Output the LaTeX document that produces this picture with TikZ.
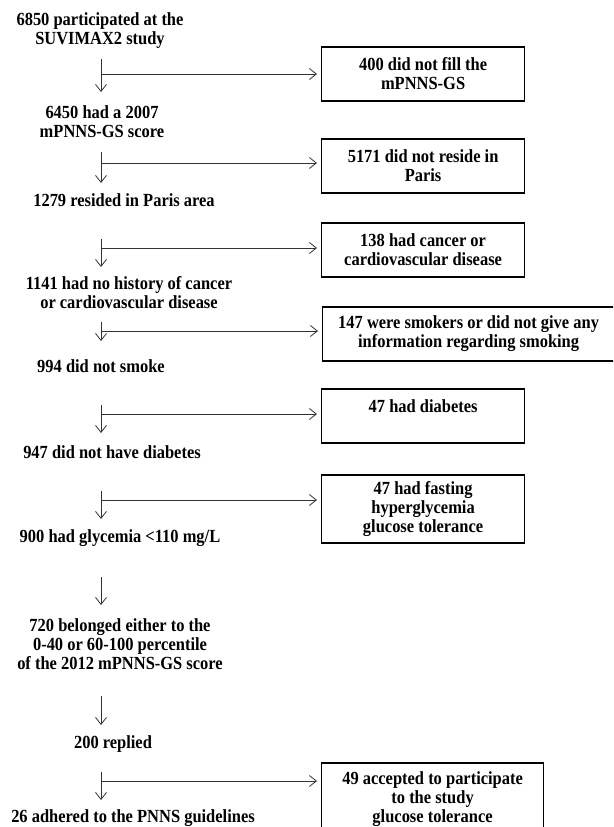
\documentclass[tikz,border=0pt]{standalone}
\usepackage{fontspec}
\setmainfont[FakeStretch=0.89]{Liberation Serif}
\usetikzlibrary{arrows.meta}

\tikzset{
	txt/.style={font=\bfseries\fontsize{18.5}{19}\selectfont, align=center, inner sep=0pt},
	excl/.style={txt, draw, line width=1.2pt, minimum width=203pt, minimum height=54pt, anchor=west},
	flow/.style={-{Straight Barb[length=7pt,width=11pt]}, black!80, line width=0.8pt}
}

\begin{document}
\begin{tikzpicture}[x=1pt,y=-1pt]
	\clip (0,0) rectangle (613,827);
	\fill[white] (0,0) rectangle (613,827);
	
	% main column
	\node[txt] (n6850) at (100,31) {6850 participated at the\\SUVIMAX2 study};
	\node[txt] (n6450) at (102,122) {6450 had a 2007\\mPNNS-GS score};
	\node[txt] (n1279) at (124,200) {1279 resided in Paris area};
	\node[txt] (n1141) at (129,293) {1141 had no history of cancer\\or cardiovascular disease};
	\node[txt] (n994) at (101,366) {994 did not smoke};
	\node[txt] (n947) at (112,452) {947 did not have diabetes};
	\node[txt] (n900) at (120,538) {900 had glycemia <110 mg/L};
	\node[txt] (n720) at (120,644) {720 belonged either to the\\0-40 or 60-100 percentile\\of the 2012 mPNNS-GS score};
	\node[txt] (n200) at (113,744) {200 replied};
	\node[txt] (n26) at (133,818) {26 adhered to the PNNS guidelines};
	
	% exclusion boxes
	\node[excl] (x400) at (321,74) {400 did not fill the\\mPNNS-GS};
	\node[excl] (x5171) at (321,166) {5171 did not reside in\\Paris};
	\node[excl] (x138) at (321,250) {138 had cancer or\\cardiovascular disease};
	\node[excl, minimum width=292pt] (x147) at (322,334) {147 were smokers or did not give any\\information regarding smoking};
	\node[excl] (x47d) at (321,416) {47 had diabetes\\\mbox{}};
	\node[excl, minimum height=68pt] (x47f) at (321,509) {47 had fasting\\hyperglycemia\\glucose tolerance};
	\node[excl, minimum width=222pt, minimum height=72pt] (x49) at (321,799) {49 accepted to participate\\to the study\\glucose tolerance};
	
	% down arrows
	\foreach \k/\ya/\yb in {1/59/92, 2/152/183, 3/239/267, 4/322/341, 5/405/433, 6/491/519, 7/577/605, 8/696/725, 9/772/800}{
		\coordinate (s\k) at (101,\ya); \coordinate (e\k) at (101,\yb);
		\draw[flow] (s\k) -- (e\k);
	}
	% side arrows
	\foreach \k/\yh/\b in {1/74/x400, 2/163/x5171, 3/248/x138, 4/331/x147, 5/414/x47d, 6/500/x47f, 9/781/x49}{
		\coordinate (h\k) at (101,\yh);
		\draw[flow] (h\k) -- ([xshift=-4pt]h\k -| \b.west);
	}
\end{tikzpicture}
\end{document}
